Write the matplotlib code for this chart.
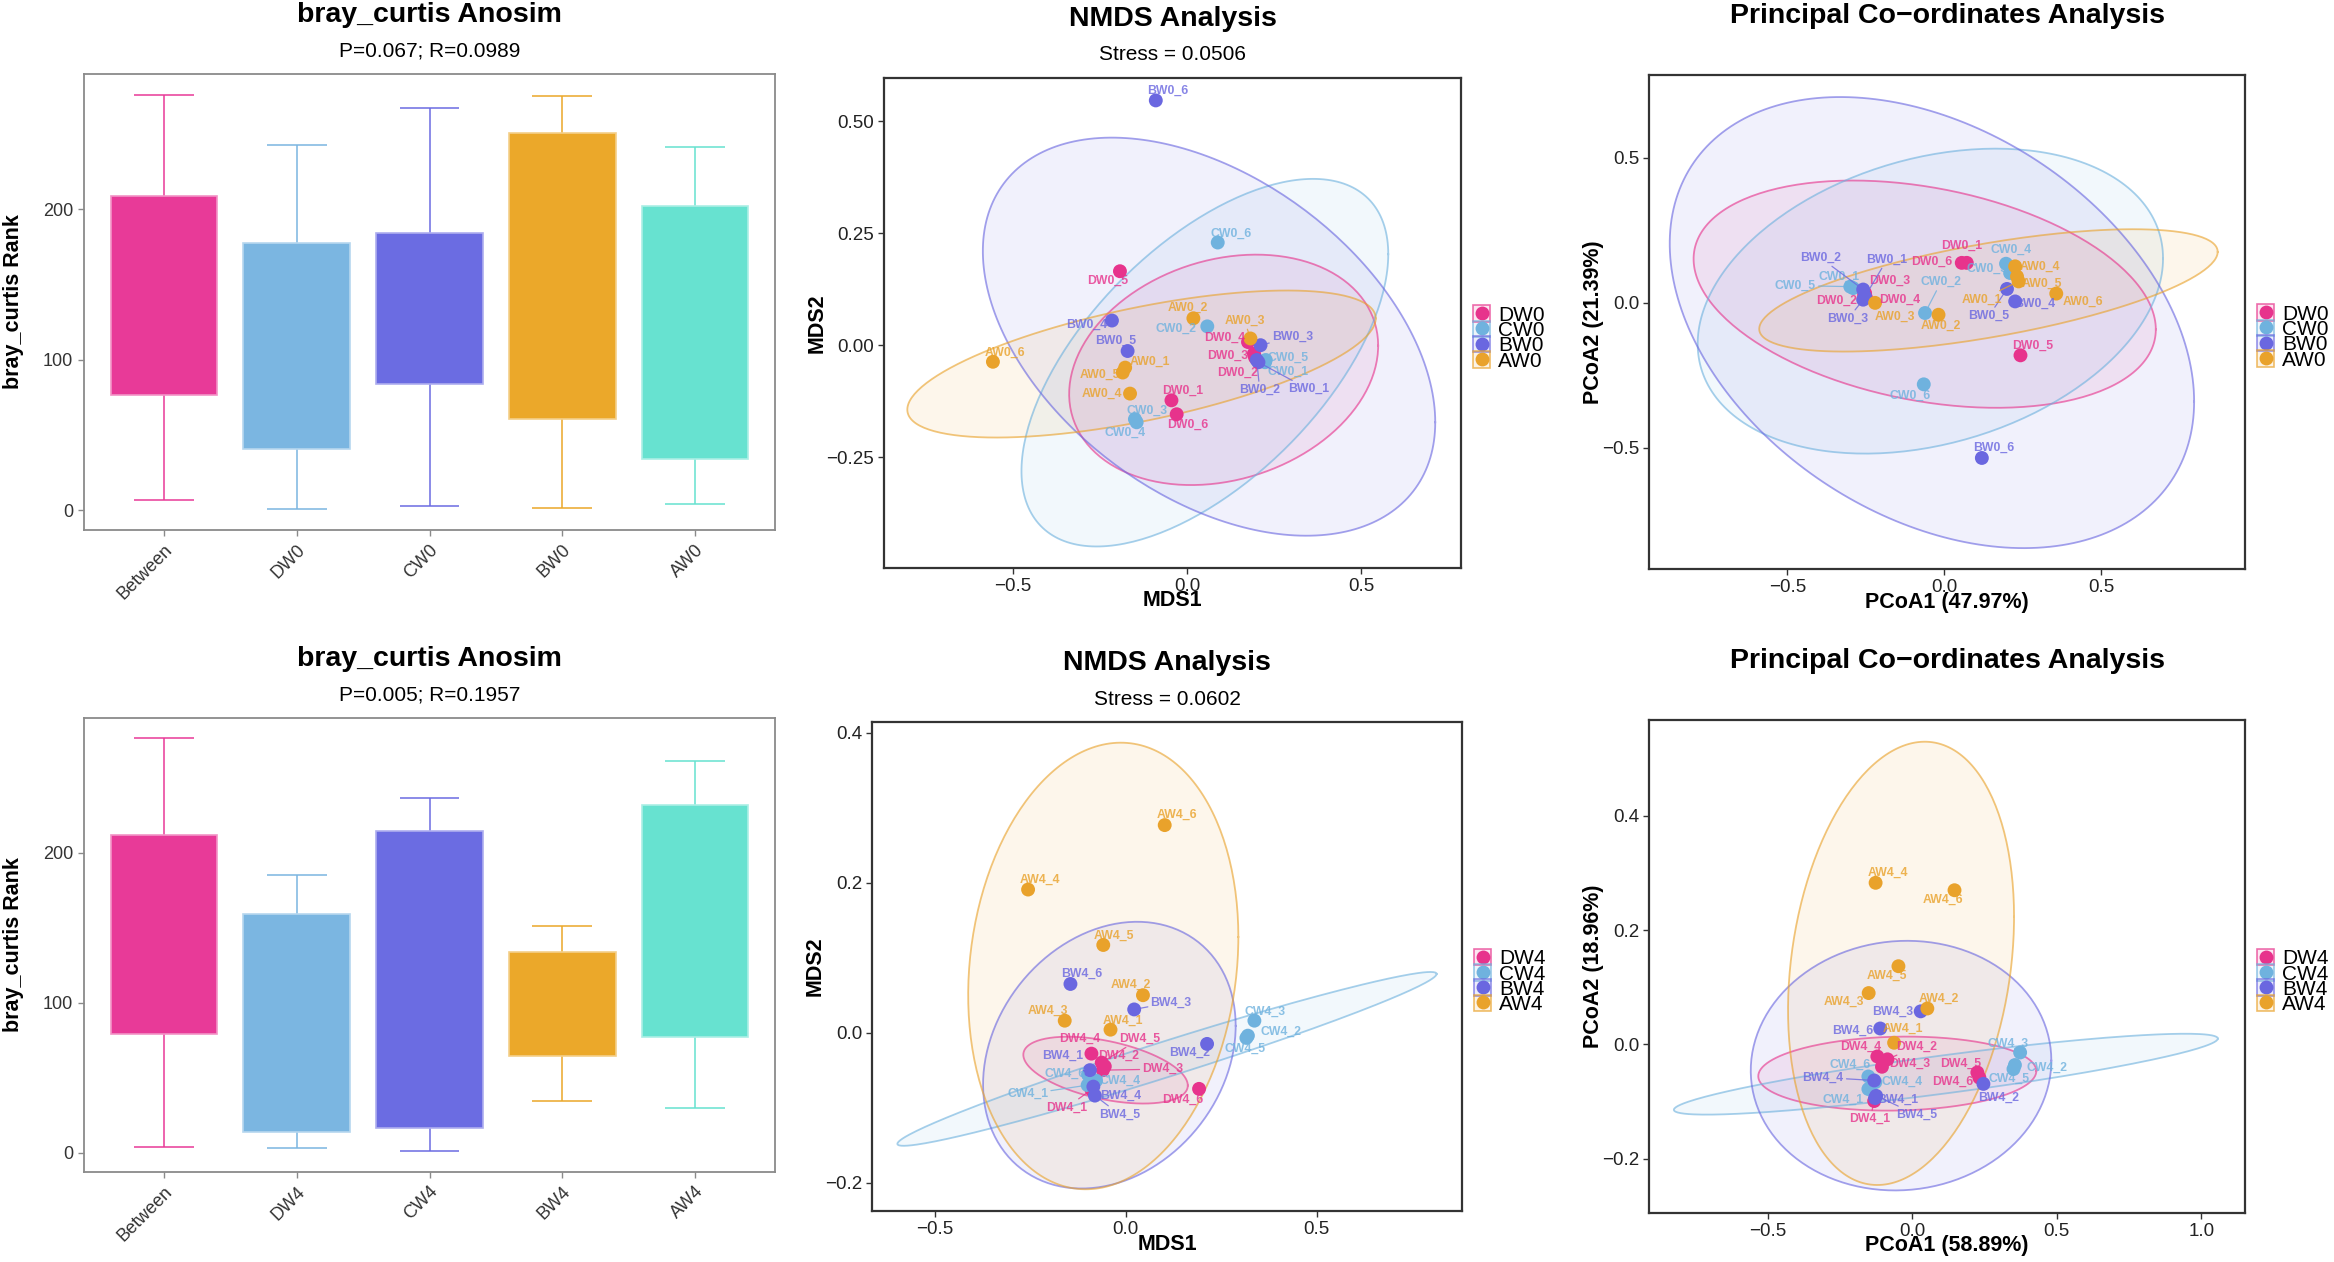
import numpy as np
import matplotlib
matplotlib.use("Agg")
from matplotlib import pyplot as plt
from matplotlib import transforms
from matplotlib.colors import to_rgba, to_rgb
from matplotlib.patches import Rectangle
from matplotlib.lines import Line2D
from matplotlib.legend_handler import HandlerTuple

plt.rcParams['font.family'] = ['Liberation Sans', 'DejaVu Sans']

# ---------------- anosim box data (rank) ----------------
box_groups_0 = ["Between", "DW0", "CW0", "BW0", "AW0"]
box_low_0 = [7.1, 0.8, 2.9, 1.8, 4.0]
box_q1_0 = [76.6, 41.0, 84.3, 61.0, 34.3]
box_q3_0 = [209.0, 178.0, 184.4, 250.7, 202.6]
box_high_0 = [276.0, 243.0, 267.6, 275.6, 241.2]

box_groups_4 = ["Between", "DW4", "CW4", "BW4", "AW4"]
box_low_4 = [4.0, 3.0, 1.1, 34.2, 29.9]
box_q1_4 = [79.1, 14.0, 16.4, 64.6, 77.0]
box_q3_4 = [211.6, 159.4, 214.5, 134.0, 231.8]
box_high_4 = [276.4, 185.2, 236.3, 151.0, 261.1]

# ---------------- NMDS week 0 ----------------
nmds0_dw_x = [-0.045, 0.195, 0.192, 0.175, -0.193, -0.030]
nmds0_dw_y = [-0.123, -0.027, -0.019, 0.007, 0.165, -0.154]
nmds0_cw_x = [0.224, 0.058, -0.150, -0.145, 0.226, 0.088]
nmds0_cw_y = [-0.038, 0.042, -0.165, -0.172, -0.033, 0.229]
nmds0_bw_x = [0.205, 0.200, 0.211, -0.216, -0.171, -0.090]
nmds0_bw_y = [-0.038, -0.033, 0.000, 0.055, -0.013, 0.546]
nmds0_aw_x = [-0.178, 0.018, 0.182, -0.164, -0.185, -0.558]
nmds0_aw_y = [-0.050, 0.060, 0.015, -0.108, -0.061, -0.037]
# ellipses (DW, CW, BW, AW): centre, half extents, correlation
nmds0_ell_cx = [0.105, 0.051, 0.063, -0.131]
nmds0_ell_cy = [-0.055, -0.039, 0.019, -0.042]
nmds0_ell_rx = [0.444, 0.527, 0.650, 0.673]
nmds0_ell_ry = [0.257, 0.410, 0.444, 0.164]
nmds0_ell_r = [0.21, 0.59, -0.43, 0.62]

# ---------------- PCoA week 0 ----------------
pcoa0_dw_x = [0.071, -0.256, -0.253, -0.250, 0.242, 0.055]
pcoa0_dw_y = [0.137, 0.027, 0.033, 0.017, -0.182, 0.137]
pcoa0_cw_x = [-0.291, -0.062, 0.209, 0.196, -0.300, -0.066]
pcoa0_cw_y = [0.050, -0.036, 0.102, 0.134, 0.055, -0.282]
pcoa0_bw_x = [-0.253, -0.259, -0.259, 0.225, 0.199, 0.119]
pcoa0_bw_y = [0.021, 0.045, 0.010, 0.004, 0.047, -0.536]
pcoa0_aw_x = [0.236, -0.019, -0.221, 0.225, 0.231, 0.356]
pcoa0_aw_y = [0.073, -0.042, -0.001, 0.125, 0.090, 0.031]
pcoa0_ell_cx = [-0.063, -0.045, -0.040, 0.140]
pcoa0_ell_cy = [0.029, 0.005, -0.069, 0.042]
pcoa0_ell_rx = [0.736, 0.741, 0.835, 0.730]
pcoa0_ell_ry = [0.392, 0.526, 0.778, 0.211]
pcoa0_ell_r = [-0.31, 0.28, -0.35, 0.63]

# ---------------- NMDS week 4 ----------------
nmds4_dw_x = [-0.090, -0.055, -0.060, -0.090, -0.063, 0.192]
nmds4_dw_y = [-0.076, -0.045, -0.050, -0.028, -0.040, -0.075]
nmds4_cw_x = [-0.100, 0.320, 0.337, -0.078, 0.316, -0.099]
nmds4_cw_y = [-0.070, -0.004, 0.016, -0.064, -0.007, -0.056]
nmds4_bw_x = [-0.094, 0.213, 0.022, -0.085, -0.081, -0.145]
nmds4_bw_y = [-0.050, -0.015, 0.031, -0.072, -0.084, 0.065]
nmds4_aw_x = [-0.040, 0.045, -0.160, -0.256, -0.059, 0.102]
nmds4_aw_y = [0.004, 0.050, 0.016, 0.191, 0.117, 0.277]
nmds4_ell_cx = [-0.053, 0.108, -0.043, -0.059]
nmds4_ell_cy = [-0.050, -0.035, -0.030, 0.089]
nmds4_ell_rx = [0.2155, 0.7065, 0.331, 0.354]
nmds4_ell_ry = [0.0446, 0.116, 0.178, 0.298]
nmds4_ell_r = [-0.46, 0.977, 0.22, 0.13]

# ---------------- PCoA week 4 ----------------
pcoa4_dw_x = [-0.132, -0.086, -0.105, -0.121, 0.225, 0.232]
pcoa4_dw_y = [-0.099, -0.026, -0.039, -0.021, -0.049, -0.058]
pcoa4_cw_x = [-0.152, 0.355, 0.373, -0.128, 0.350, -0.152]
pcoa4_cw_y = [-0.078, -0.036, -0.014, -0.066, -0.043, -0.056]
pcoa4_bw_x = [-0.129, 0.246, 0.029, -0.132, -0.125, -0.111]
pcoa4_bw_y = [-0.094, -0.069, 0.058, -0.063, -0.090, 0.028]
pcoa4_aw_x = [-0.063, 0.052, -0.151, -0.127, -0.048, 0.146]
pcoa4_aw_y = [0.003, 0.063, 0.090, 0.283, 0.137, 0.270]
pcoa4_ell_cx = [-0.052, 0.116, -0.039, -0.039]
pcoa4_ell_cy = [-0.051, -0.052, -0.037, 0.142]
pcoa4_ell_rx = [0.481, 0.941, 0.520, 0.391]
pcoa4_ell_ry = [0.0648, 0.0708, 0.2185, 0.388]
pcoa4_ell_r = [0.07, 0.88, 0.04, 0.21]

group_prefix = ["DW", "CW", "BW", "AW"]
group_colors = ["#E7338C", "#6FB2DE", "#6A67E0", "#E9A22B"]
box_colors = ["#E83A98", "#7BB6E1", "#6B6CE2", "#EBA82A", "#67E2D0"]

# label placement (pixels from the point, segment flag)
nmds0_lab = {
    'DW0_1': (11, 10, 0), 'DW0_2': (-17, -16, 0), 'DW0_3': (-26, -2, 0), 'DW0_4': (-23, 4, 0),
    'DW0_5': (-12, -10, 0), 'DW0_6': (11, -11, 0),
    'CW0_1': (23, -10, 0), 'CW0_2': (-31, -2, 0), 'CW0_3': (12, 8, 0), 'CW0_4': (-12, -10, 0),
    'CW0_5': (22, 2, 0), 'CW0_6': (13, 9, 0),
    'BW0_1': (50, -27, 1), 'BW0_2': (3, -30, 1), 'BW0_3': (32, 8, 1), 'BW0_4': (-25, -4, 0),
    'BW0_5': (-12, 10, 0), 'BW0_6': (12, 10, 0),
    'AW0_1': (25, 6, 0), 'AW0_2': (-6, 10, 0), 'AW0_3': (-6, 18, 1), 'AW0_4': (-28, 0, 0),
    'AW0_5': (-23, -2, 0), 'AW0_6': (12, 9, 0),
}
pcoa0_lab = {
    'DW0_1': (-5, 17, 0), 'DW0_2': (-27, -6, 0), 'DW0_3': (25, 12, 0), 'DW0_4': (34, -2, 0),
    'DW0_5': (12, 10, 0), 'DW0_6': (-30, 1, 0),
    'CW0_1': (-14, 11, 1), 'CW0_2': (16, 31, 1), 'CW0_3': (-23, 4, 0), 'CW0_4': (5, 14, 0),
    'CW0_5': (-55, 1, 1), 'CW0_6': (-14, -11, 0),
    'BW0_1': (22, 37, 1), 'BW0_2': (-43, 32, 1), 'BW0_3': (-15, -19, 1), 'BW0_4': (20, -2, 0),
    'BW0_5': (-18, -27, 1), 'BW0_6': (12, 10, 0),
    'AW0_1': (-37, -18, 1), 'AW0_2': (2, -11, 0), 'AW0_3': (20, -14, 0), 'AW0_4': (25, 0, 0),
    'AW0_5': (25, -7, 0), 'AW0_6': (27, -8, 0),
}
nmds4_lab = {
    'DW4_1': (-25, -18, 1), 'DW4_2': (14, 11, 0), 'DW4_3': (60, 1, 1), 'DW4_4': (-12, 15, 0),
    'DW4_5': (38, 24, 1), 'DW4_6': (-16, -11, 0),
    'CW4_1': (-60, -9, 1), 'CW4_2': (33, 4, 0), 'CW4_3': (11, 9, 0), 'CW4_4': (24, 0, 0),
    'CW4_5': (-1, -11, 0), 'CW4_6': (-23, 1, 0),
    'BW4_1': (-27, 14, 0), 'BW4_2': (-17, -9, 0), 'BW4_3': (37, 7, 1), 'BW4_4': (27, -9, 0),
    'BW4_5': (25, -19, 1), 'BW4_6': (11, 10, 0),
    'AW4_1': (12, 9, 0), 'AW4_2': (-12, 10, 0), 'AW4_3': (-17, 10, 0), 'AW4_4': (12, 10, 0),
    'AW4_5': (11, 9, 0), 'AW4_6': (12, 10, 0),
}
pcoa4_lab = {
    'DW4_1': (-4, -18, 1), 'DW4_2': (29, 13, 1), 'DW4_3': (28, 3, 1), 'DW4_4': (-17, 10, 0),
    'DW4_5': (-17, 9, 0), 'DW4_6': (-27, -4, 0),
    'CW4_1': (-25, -11, 0), 'CW4_2': (32, -3, 0), 'CW4_3': (-12, 9, 0), 'CW4_4': (27, 0, 0),
    'CW4_5': (-4, -10, 0), 'CW4_6': (-18, 12, 0),
    'BW4_1': (23, -2, 0), 'BW4_2': (15, -14, 0), 'BW4_3': (-28, 0, 0), 'BW4_4': (-51, 3, 1),
    'BW4_5': (41, -19, 1), 'BW4_6': (-27, -2, 0),
    'AW4_1': (9, 14, 0), 'AW4_2': (12, 10, 0), 'AW4_3': (-25, -9, 0), 'AW4_4': (12, 10, 0),
    'AW4_5': (-12, -10, 0), 'AW4_6': (-12, -10, 0),
}

fig = plt.figure(figsize=(23.34, 12.62), dpi=100)
W, H = 2334, 1262


def add_axes_px(left, top, right, bottom):
    return fig.add_axes([left / W, 1 - bottom / H, (right - left) / W, (bottom - top) / H])


def fmt(v, nd):
    s = f"{v:.{nd}f}"
    return s.replace("-", "\u2212")


def headings(ax, title, subtitle=None):
    ax.annotate(title, xy=(0.5, 1), xycoords='axes fraction', xytext=(0, 59),
                textcoords='offset pixels', ha='center', va='center',
                fontsize=20.5, fontweight='bold')
    if subtitle:
        ax.annotate(subtitle, xy=(0.5, 1), xycoords='axes fraction', xytext=(0, 23),
                    textcoords='offset pixels', ha='center', va='center', fontsize=15)


def axis_labels(ax, xlabel, ylabel, xoff, yoff):
    if xlabel:
        ax.set_xlabel(xlabel, fontsize=15.5, fontweight='bold', va='center')
        ax.xaxis.set_label_coords(0.5, 0, transform=transforms.offset_copy(
            ax.transAxes, fig=fig, x=0, y=-xoff, units='dots'))
    ax.set_ylabel(ylabel, fontsize=15.5, fontweight='bold', va='center')
    ax.yaxis.set_label_coords(0, 0.5, transform=transforms.offset_copy(
        ax.transAxes, fig=fig, x=-yoff, y=0, units='dots'))


def anosim_box(ax, groups, low, q1, q3, high, title, subtitle):
    pos = np.arange(1, len(groups) + 1)
    for i in range(len(groups)):
        c = box_colors[i]
        edge = tuple(0.55 * np.array(to_rgb(c)) + 0.45)
        ax.vlines(pos[i], low[i], high[i], color=c, lw=1.3, alpha=0.85, zorder=1)
        ax.hlines([low[i], high[i]], pos[i] - 0.225, pos[i] + 0.225, color=c, lw=1.3,
                  alpha=0.85, zorder=1)
        ax.bar(pos[i], q3[i] - q1[i], bottom=q1[i], width=0.8, color=c,
               edgecolor=edge, linewidth=1.2, zorder=2)
    ax.set_xlim(0.4, 5.6)
    ax.set_ylim(-13, 290)
    ax.set_yticks([0, 100, 200])
    ax.set_xticks(pos)
    ax.set_xticklabels(groups, rotation=45, ha='right', rotation_mode='anchor')
    ax.tick_params(labelsize=13, colors='#333333', length=4, width=1, pad=4,
                   color='#8a8a8a')
    for sp in ax.spines.values():
        sp.set_color('#8a8a8a')
        sp.set_linewidth(1.3)
    headings(ax, title, subtitle)
    axis_labels(ax, None, 'bray_curtis Rank', 0, 70)


def ellipse_xy(cx, cy, rx, ry, r):
    t = np.linspace(0, 2 * np.pi, 240)
    d = np.arccos(r)
    return cx + rx * np.cos(t), cy + ry * np.cos(t - d)


def ord_panel(ax, pts, ell, labs, week, xlim, ylim, xticks, yticks, ynd,
              title, subtitle, xlabel, ylabel, yoff):
    for k in range(4):
        ex, ey = ellipse_xy(ell[0][k], ell[1][k], ell[2][k], ell[3][k], ell[4][k])
        ax.fill(ex, ey, facecolor=to_rgba(group_colors[k], 0.09), edgecolor='none', zorder=1)
    for k in range(4):
        ex, ey = ellipse_xy(ell[0][k], ell[1][k], ell[2][k], ell[3][k], ell[4][k])
        ax.plot(ex, ey, color=group_colors[k], lw=1.3, alpha=0.62, zorder=2)
    for k in range(4):
        xs, ys = pts[k]
        ax.scatter(xs, ys, s=100, color=group_colors[k], edgecolors='none', zorder=3)
    for k in range(4):
        xs, ys = pts[k]
        for j in range(len(xs)):
            name = f"{group_prefix[k]}{week}_{j + 1}"
            dx, dy, seg = labs[name]
            arrow = None
            if seg:
                arrow = dict(arrowstyle='-', color=group_colors[k], lw=0.9, alpha=0.8,
                             shrinkA=0, shrinkB=3)
            ax.annotate(name, (xs[j], ys[j]), xytext=(dx, dy), textcoords='offset pixels',
                        ha='center', va='center', fontsize=8.8, fontweight='bold',
                        color=group_colors[k], alpha=0.8, zorder=4, arrowprops=arrow)
    ax.set_xlim(*xlim)
    ax.set_ylim(*ylim)
    ax.set_xticks(xticks, labels=[fmt(v, 1) for v in xticks])
    ax.set_yticks(yticks, labels=[fmt(v, ynd) for v in yticks])
    ax.tick_params(labelsize=13.5, colors='#222222', length=4, width=1, pad=3,
                   color='#333333')
    for sp in ax.spines.values():
        sp.set_color('#333333')
        sp.set_linewidth(1.6)
    headings(ax, title, subtitle)
    axis_labels(ax, xlabel, ylabel, 33, yoff)

    handles = []
    for k in range(4):
        box = Rectangle((0, 0), 1, 1, facecolor=to_rgba(group_colors[k], 0.12),
                        edgecolor=to_rgba(group_colors[k], 0.7), linewidth=1.2)
        dot = Line2D([], [], marker='o', ls='', markersize=10,
                     markerfacecolor=group_colors[k], markeredgecolor='none')
        handles.append((box, dot))
    ax.legend(handles, [f"{g}{week}" for g in group_prefix],
              handler_map={tuple: HandlerTuple(ndivide=1, pad=0)},
              loc='center left', bbox_to_anchor=(1.0, 0.5),
              bbox_transform=transforms.offset_copy(ax.transAxes, fig=fig, x=12, y=-15,
                                                    units='dots'),
              frameon=False, fontsize=15, handlelength=0.82, handleheight=0.84,
              handletextpad=0.38, labelspacing=-0.2, borderpad=0, borderaxespad=0)


# top row
ax1 = add_axes_px(84, 74, 775, 530)
anosim_box(ax1, box_groups_0, box_low_0, box_q1_0, box_q3_0, box_high_0,
           'bray_curtis Anosim', 'P=0.067; R=0.0989')

ax2 = add_axes_px(884, 78, 1461, 568)
ord_panel(ax2,
          [(nmds0_dw_x, nmds0_dw_y), (nmds0_cw_x, nmds0_cw_y),
           (nmds0_bw_x, nmds0_bw_y), (nmds0_aw_x, nmds0_aw_y)],
          [nmds0_ell_cx, nmds0_ell_cy, nmds0_ell_rx, nmds0_ell_ry, nmds0_ell_r],
          nmds0_lab, 0, (-0.871, 0.787), (-0.497, 0.596),
          [-0.5, 0.0, 0.5], [-0.25, 0.0, 0.25, 0.5], 2,
          'NMDS Analysis', 'Stress = 0.0506', 'MDS1', 'MDS2', 67)

ax3 = add_axes_px(1649, 75, 2245, 569)
ord_panel(ax3,
          [(pcoa0_dw_x, pcoa0_dw_y), (pcoa0_cw_x, pcoa0_cw_y),
           (pcoa0_bw_x, pcoa0_bw_y), (pcoa0_aw_x, pcoa0_aw_y)],
          [pcoa0_ell_cx, pcoa0_ell_cy, pcoa0_ell_rx, pcoa0_ell_ry, pcoa0_ell_r],
          pcoa0_lab, 0, (-0.941, 0.957), (-0.919, 0.785),
          [-0.5, 0.0, 0.5], [-0.5, 0.0, 0.5], 1,
          'Principal Co\u2212ordinates Analysis', None,
          'PCoA1 (47.97%)', 'PCoA2 (21.39%)', 56)

# bottom row
ax4 = add_axes_px(84, 718, 775, 1172)
anosim_box(ax4, box_groups_4, box_low_4, box_q1_4, box_q3_4, box_high_4,
           'bray_curtis Anosim', 'P=0.005; R=0.1957')

ax5 = add_axes_px(872, 722, 1462, 1211)
ord_panel(ax5,
          [(nmds4_dw_x, nmds4_dw_y), (nmds4_cw_x, nmds4_cw_y),
           (nmds4_bw_x, nmds4_bw_y), (nmds4_aw_x, nmds4_aw_y)],
          [nmds4_ell_cx, nmds4_ell_cy, nmds4_ell_rx, nmds4_ell_ry, nmds4_ell_r],
          nmds4_lab, 4, (-0.665, 0.881), (-0.238, 0.4146),
          [-0.5, 0.0, 0.5], [-0.2, 0.0, 0.2, 0.4], 1,
          'NMDS Analysis', 'Stress = 0.0602', 'MDS1', 'MDS2', 57)

ax6 = add_axes_px(1649, 720, 2245, 1213)
ord_panel(ax6,
          [(pcoa4_dw_x, pcoa4_dw_y), (pcoa4_cw_x, pcoa4_cw_y),
           (pcoa4_bw_x, pcoa4_bw_y), (pcoa4_aw_x, pcoa4_aw_y)],
          [pcoa4_ell_cx, pcoa4_ell_cy, pcoa4_ell_rx, pcoa4_ell_ry, pcoa4_ell_r],
          pcoa4_lab, 4, (-0.911, 1.151), (-0.295, 0.568),
          [-0.5, 0.0, 0.5, 1.0], [-0.2, 0.0, 0.2, 0.4], 1,
          'Principal Co\u2212ordinates Analysis', None,
          'PCoA1 (58.89%)', 'PCoA2 (18.96%)', 56)

fig.savefig("out.png", dpi=100)
